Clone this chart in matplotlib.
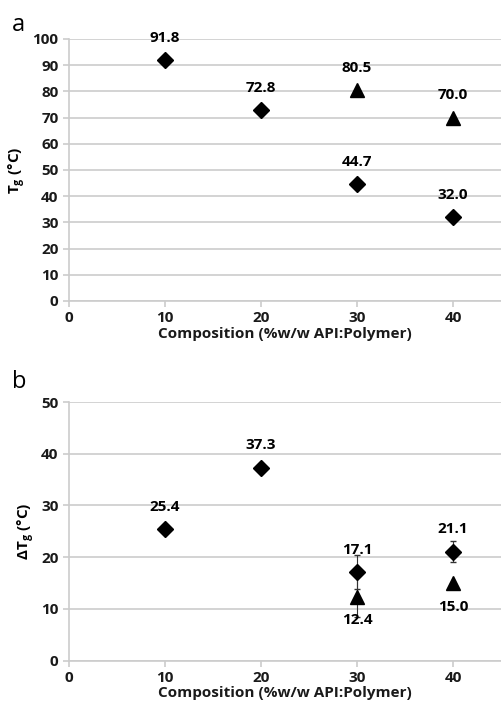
import matplotlib
matplotlib.use("Agg")
import matplotlib.pyplot as plt

# panel a: glass transition temperature
comp_diamond_a = [10, 20, 30, 40]
tg_diamond = [91.8, 72.8, 44.7, 32.0]
comp_triangle_a = [30, 40]
tg_triangle = [80.5, 70.0]

# panel b: delta Tg
comp_diamond_b = [10, 20, 30, 40]
dtg_diamond = [25.4, 37.3, 17.1, 21.1]
dtg_diamond_err = [0, 0, 3.3, 2.0]
comp_triangle_b = [30, 40]
dtg_triangle = [12.4, 15.0]
dtg_triangle_err = [4.0, 0]

x_ticks = [0, 10, 20, 30, 40]
xlabel = "Composition (%w/w API:Polymer)"

plt.rcParams["font.family"] = ["Open Sans", "DejaVu Sans"]
grey = "#cccccc"
fs = 11

fig = plt.figure(figsize=(5.02, 7.07), dpi=100)
ax1 = fig.add_axes([0.1375, 0.5743, 0.8606, 0.3706])
ax2 = fig.add_axes([0.1375, 0.0655, 0.8606, 0.3659])


def style_axis(ax, ymax, ystep):
    ax.set_xlim(0, 45)
    ax.set_ylim(0, ymax)
    ax.set_xticks(x_ticks)
    ax.set_yticks(range(0, ymax + 1, ystep))
    ax.grid(axis="y", color=grey, linewidth=1.2)
    ax.set_axisbelow(True)
    for side in ["top", "right"]:
        ax.spines[side].set_visible(False)
    for side in ["left", "bottom"]:
        ax.spines[side].set_color(grey)
        ax.spines[side].set_linewidth(1.2)
    ax.tick_params(colors=grey, length=4, width=1.2, labelcolor="#1a1a1a",
                   labelsize=fs)
    for lbl in ax.get_xticklabels() + ax.get_yticklabels():
        lbl.set_fontweight("bold")
    ax.set_xlabel(xlabel, fontsize=fs, fontweight="bold", labelpad=1,
                  color="#1a1a1a")


# panel a
ax1.plot(comp_diamond_a, tg_diamond, "D", color="black", markersize=8)
ax1.plot(comp_triangle_a, tg_triangle, "^", color="black", markersize=10)
for x, y in zip(comp_diamond_a, tg_diamond):
    ax1.annotate(f"{y:.1f}", (x, y), xytext=(0, 11), textcoords="offset points",
                 ha="center", va="bottom", fontsize=fs, fontweight="bold")
for x, y in zip(comp_triangle_a, tg_triangle):
    ax1.annotate(f"{y:.1f}", (x, y), xytext=(0, 11), textcoords="offset points",
                 ha="center", va="bottom", fontsize=fs, fontweight="bold")
style_axis(ax1, 100, 10)
ax1.set_ylabel("T$_\\mathregular{g}$ (°C)", fontsize=fs, fontweight="bold",
               labelpad=3)
fig.text(0.024, 0.965, "a", fontsize=17, va="center")

# panel b
ax2.errorbar(comp_diamond_b, dtg_diamond, yerr=dtg_diamond_err, fmt="D",
             color="black", markersize=8, ecolor="#333333", elinewidth=0.8,
             capsize=2)
ax2.errorbar(comp_triangle_b, dtg_triangle, yerr=dtg_triangle_err, fmt="^",
             color="black", markersize=10, ecolor="#333333", elinewidth=0.8,
             capsize=2)
for x, y in zip(comp_diamond_b, dtg_diamond):
    ax2.annotate(f"{y:.1f}", (x, y), xytext=(0, 11), textcoords="offset points",
                 ha="center", va="bottom", fontsize=fs, fontweight="bold")
for x, y in zip(comp_triangle_b, dtg_triangle):
    ax2.annotate(f"{y:.1f}", (x, y), xytext=(0, -12), textcoords="offset points",
                 ha="center", va="top", fontsize=fs, fontweight="bold")
style_axis(ax2, 50, 10)
ax2.set_ylabel("ΔT$_\\mathregular{g}$ (°C)", fontsize=fs, fontweight="bold",
               labelpad=3)
fig.text(0.024, 0.46, "b", fontsize=17, va="center")

fig.savefig("out.png", dpi=100)
